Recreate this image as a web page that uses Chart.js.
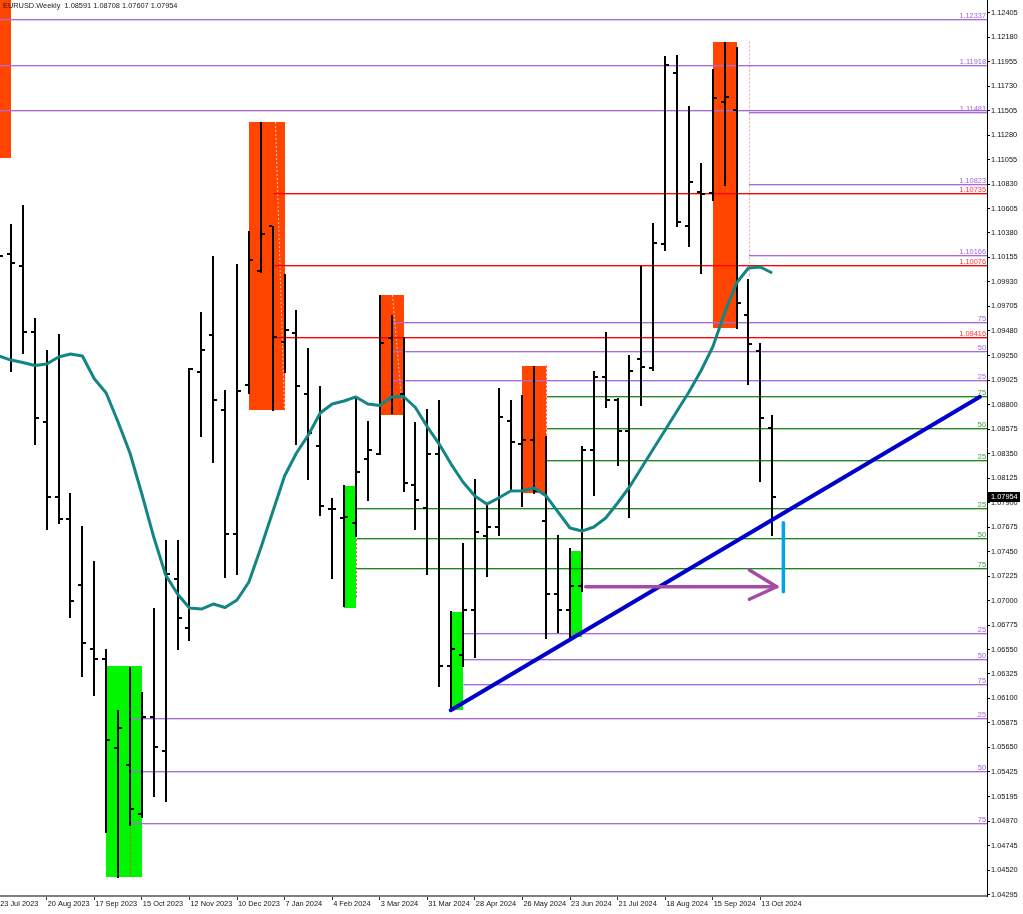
<!DOCTYPE html>
<html>
<head>
<meta charset="utf-8">
<script src="https://cdn.jsdelivr.net/npm/chart.js@4.4.1/dist/chart.umd.min.js"></script>
<style>
  html, body { margin: 0; padding: 0; background: #fff; }
  #grafico { display: block; }
</style>
</head>
<body>
<canvas id="grafico" width="1023" height="914" style="width:1023px;height:914px"></canvas>
<script>
// EURUSD semanal - barras OHLC (indice 0 = semana de 23 Jul 2023)
const barOpen = [1.1125, 1.1019, 1.1008, 1.0947, 1.0864, 1.0795, 1.0775, 1.0714, 1.0655, 1.0646,
  1.0564, 1.0549, 1.0504, 1.0593, 1.0562, 1.0720, 1.0675, 1.0910, 1.0944, 1.0875,
  1.0761, 1.0898, 1.1003, 1.1044, 1.0938, 1.0946, 1.0890, 1.0842, 1.0784, 1.0776,
  1.0771, 1.0830, 1.0835, 1.0941, 1.0890, 1.0806, 1.0785, 1.0835, 1.0640, 1.0650,
  1.0691, 1.0759, 1.0768, 1.0865, 1.0844, 1.0848, 1.0773, 1.0706, 1.0691, 1.0713,
  1.0838, 1.0906, 1.0884, 1.0856, 1.0922, 1.0914, 1.1028, 1.1185, 1.1044, 1.1076,
  1.1075, 1.1158, 1.1151, 1.0963, 1.0929, 1.08591];
const barHigh = [1.1149, 1.1046, 1.1064, 1.0960, 1.0930, 1.0945, 1.0799, 1.0769, 1.0736, 1.0655,
  1.0599, 1.0639, 1.0616, 1.0693, 1.0756, 1.0756, 1.0914, 1.0965, 1.1017, 1.0894,
  1.1009, 1.1040, 1.1140, 1.1044, 1.1000, 1.0967, 1.0932, 1.0897, 1.0794, 1.0806,
  1.0888, 1.0865, 1.0981, 1.0963, 1.0942, 1.0864, 1.0876, 1.0884, 1.0690, 1.0753,
  1.0812, 1.0789, 1.0895, 1.0884, 1.0889, 1.0916, 1.0851, 1.0760, 1.0748, 1.0842,
  1.0911, 1.0947, 1.0886, 1.0926, 1.1008, 1.1047, 1.1201, 1.1202, 1.1155, 1.1102,
  1.1189, 1.1214, 1.1209, 1.0996, 1.0937, 1.08708];
const barLow = [1.0944, 1.0911, 1.0928, 1.0844, 1.0766, 1.0771, 1.0685, 1.0631, 1.0613, 1.0487,
  1.0446, 1.0494, 1.0501, 1.0520, 1.0516, 1.0655, 1.0664, 1.0851, 1.0827, 1.0722,
  1.0724, 1.0891, 1.1002, 1.0875, 1.0910, 1.0844, 1.0812, 1.0779, 1.0721, 1.0695,
  1.0759, 1.0792, 1.0835, 1.0872, 1.0801, 1.0766, 1.0724, 1.0621, 1.0600, 1.0640,
  1.0648, 1.0723, 1.0760, 1.0803, 1.0787, 1.0799, 1.0666, 1.0671, 1.0666, 1.0709,
  1.0797, 1.0878, 1.0825, 1.0777, 1.0880, 1.0912, 1.1022, 1.1044, 1.1026, 1.1001,
  1.1068, 1.1082, 1.0951, 1.0899, 1.0810, 1.07607];
const barClose = [1.1017, 1.1010, 1.0947, 1.0868, 1.0795, 1.0775, 1.0700, 1.0661, 1.0646, 1.0572,
  1.0583, 1.0508, 1.0593, 1.0565, 1.0724, 1.0684, 1.0913, 1.0930, 1.0884, 1.0761,
  1.0893, 1.1013, 1.1037, 1.0942, 1.0949, 1.0897, 1.0854, 1.0787, 1.0784, 1.0777,
  1.0818, 1.0838, 1.0937, 1.0887, 1.0808, 1.0792, 1.0835, 1.0640, 1.0655, 1.0691,
  1.0763, 1.0768, 1.0869, 1.0846, 1.0848, 1.0801, 1.0706, 1.0691, 1.0713, 1.0838,
  1.0906, 1.0884, 1.0856, 1.0911, 1.0915, 1.1029, 1.1192, 1.1048, 1.1085, 1.1074,
  1.1162, 1.1163, 1.0974, 1.0936, 1.0868, 1.07954];

// media movel (linha verde-azulada)
const mediaMovel = [1.09248, 1.09211, 1.09189, 1.09161, 1.09175, 1.09239, 1.09267, 1.09248, 1.09039, 1.08908,
  1.08642, 1.08357, 1.07980, 1.07584, 1.07235, 1.07060, 1.06931, 1.06922, 1.06968, 1.06936,
  1.07005, 1.07171, 1.07483, 1.07814, 1.08145, 1.08357, 1.08522, 1.08725, 1.08807, 1.08835,
  1.08872, 1.08807, 1.08793, 1.08872, 1.08876, 1.08775, 1.08598, 1.08439, 1.08255, 1.08090,
  1.07961, 1.07887, 1.07943, 1.08007, 1.08010, 1.08035, 1.07961, 1.07814, 1.07667, 1.07639,
  1.07676, 1.07759, 1.07897, 1.08044, 1.08219, 1.08393, 1.08568, 1.08743, 1.08917, 1.09111,
  1.09331, 1.09644, 1.09920, 1.10058, 1.10067, 1.10012];

// rotulos dos eixos
const rotulosData = ['23 Jul 2023', '20 Aug 2023', '17 Sep 2023', '15 Oct 2023', '12 Nov 2023', '10 Dec 2023',
  '7 Jan 2024', '4 Feb 2024', '3 Mar 2024', '31 Mar 2024', '28 Apr 2024', '26 May 2024', '23 Jun 2024',
  '21 Jul 2024', '18 Aug 2024', '15 Sep 2024', '13 Oct 2024'];
const rotulosPreco = ['1.12405', '1.12180', '1.11955', '1.11730', '1.11505', '1.11280', '1.11055', '1.10830',
  '1.10605', '1.10380', '1.10155', '1.09930', '1.09705', '1.09480', '1.09250', '1.09025', '1.08800', '1.08575',
  '1.08350', '1.08125', '1.07900', '1.07675', '1.07450', '1.07225', '1.07000', '1.06775', '1.06550', '1.06325',
  '1.06100', '1.05875', '1.05650', '1.05425', '1.05195', '1.04970', '1.04745', '1.04520', '1.04295'];

// zonas de oferta / demanda
const zonaInicio = [-3, 21, 32, 44, 60, 9, 29, 38, 48];
const zonaFim = [1, 24, 34, 46, 62, 12, 30, 39, 49];
const zonaTopo = [1.1290, 1.1140, 1.0981, 1.0916, 1.12138, 1.06398, 1.08053, 1.06897, 1.07456];
const zonaBase = [1.1107, 1.0875, 1.0871, 1.07986, 1.09503, 1.04458, 1.06934, 1.05994, 1.06662];
const zonaTipo = ['oferta', 'oferta', 'oferta', 'oferta', 'oferta', 'demanda', 'demanda', 'demanda', 'demanda'];

// linhas pontilhadas das zonas
const pontoIdx1 = [23.2, 33.03, 46.0, 63.05, 11.0, 30.0];
const pontoPreco1 = [1.1140, 1.0981, 1.0916, 1.1214, 1.0495, 1.0760];
const pontoIdx2 = [23.95, 33.79, 46.0, 63.05, 11.0, 30.0];
const pontoPreco2 = [1.0875, 1.0885, 1.0850, 1.0998, 1.0446, 1.0702];
const pontoTipo = ['claro', 'claro', 'vermelho', 'rosa', 'vermelho', 'vermelho'];

// niveis horizontais
const nivelPreco = [1.12337, 1.11918, 1.11500, 1.11481, 1.10823, 1.10166, 1.10735, 1.10076, 1.09416,
  1.09555, 1.09288, 1.09022, 1.08875, 1.08580, 1.08283, 1.07839, 1.07566, 1.07293,
  1.06690, 1.06453, 1.06221, 1.05908, 1.05423, 1.04943];
const nivelInicio = [-3, -3, -3, 63.05, 63.05, 63.05, 23.1, 23.1, 23.1,
  33.1, 33.1, 33.1, 46.04, 46.04, 46.04, 30.06, 30.06, 30.06,
  39.03, 39.03, 39.03, 11.0, 11.0, 11.0];
const nivelRotulo = ['1.12337', '1.11918', '', '1.11481', '1.10823', '1.10166', '1.10735', '1.10076', '1.09416',
  '75', '50', '25', '75', '50', '25', '25', '50', '75',
  '25', '50', '75', '25', '50', '75'];
const nivelTipo = ['roxo', 'roxo', 'roxo', 'roxo', 'roxo', 'roxo', 'vermelho', 'vermelho', 'vermelho',
  'roxo', 'roxo', 'roxo', 'verde', 'verde', 'verde', 'verde', 'verde', 'verde',
  'roxo', 'roxo', 'roxo', 'roxo', 'roxo', 'roxo'];

// desenhos: linha de tendencia, seta e alvo
const tendenciaIdx = [37.97, 82.47];
const tendenciaPreco = [1.05992, 1.08874];
const setaIdx = [49.32, 65.38];
const setaPreco = [1.07127, 1.07127];
const pontaIdx = [63.08, 65.38, 63.08];
const pontaPreco = [1.07281, 1.07127, 1.07012];
const alvoIdx = [65.94, 65.94];
const alvoPreco = [1.07716, 1.07081];

const titulo = 'EURUSD.Weekly  1.08591 1.08708 1.07607 1.07954';
const precoAtual = 1.07954;

const fonte = "'Liberation Sans', Arial, sans-serif";

const coresNivel = { roxo: '#a86add', vermelho: '#ff0000', verde: '#1f851f' };
const coresTexto = { roxo: '#9b63d8', vermelho: '#ff3333', verde: '#3a9a3a' };
const coresPonto = { claro: '#ffc8b8', vermelho: '#ff3b3b', rosa: '#ff9a9a' };

function pontos(idx, precos) {
  return idx.map((v, k) => ({ x: v, y: precos[k] }));
}

const mt4Plugin = {
  id: 'mt4',
  beforeDatasetsDraw(chart) {
    const { ctx, chartArea: area, scales: { x, y } } = chart;
    ctx.save();
    ctx.beginPath();
    ctx.rect(area.left, area.top, area.right - area.left, area.bottom - area.top);
    ctx.clip();

    // zonas
    for (let k = 0; k < zonaInicio.length; k++) {
      const x1 = x.getPixelForValue(zonaInicio[k]);
      const x2 = x.getPixelForValue(zonaFim[k]);
      const y1 = y.getPixelForValue(zonaTopo[k]);
      const y2 = y.getPixelForValue(zonaBase[k]);
      ctx.fillStyle = zonaTipo[k] == 'oferta' ? '#ff4500' : '#00f500';
      ctx.fillRect(Math.round(x1), Math.round(y1), Math.round(x2) - Math.round(x1), Math.round(y2) - Math.round(y1));
    }

    // pontilhadas
    ctx.setLineDash([2, 2]);
    ctx.lineWidth = 1;
    for (let k = 0; k < pontoIdx1.length; k++) {
      ctx.strokeStyle = coresPonto[pontoTipo[k]];
      ctx.beginPath();
      ctx.moveTo(Math.round(x.getPixelForValue(pontoIdx1[k])) + 0.5, y.getPixelForValue(pontoPreco1[k]));
      ctx.lineTo(Math.round(x.getPixelForValue(pontoIdx2[k])) + 0.5, y.getPixelForValue(pontoPreco2[k]));
      ctx.stroke();
    }
    ctx.setLineDash([]);

    // niveis: linha de 1px com borda suave
    for (let k = 0; k < nivelPreco.length; k++) {
      const yy = Math.round(y.getPixelForValue(nivelPreco[k]));
      const x1 = x.getPixelForValue(nivelInicio[k]);
      ctx.fillStyle = coresNivel[nivelTipo[k]];
      ctx.globalAlpha = 1;
      ctx.fillRect(x1, yy - 1, area.right - x1, 1);
      ctx.globalAlpha = 0.35;
      ctx.fillRect(x1, yy, area.right - x1, 1);
    }
    ctx.globalAlpha = 1;

    // barras OHLC
    ctx.fillStyle = '#000';
    for (let i = 0; i < barOpen.length; i++) {
      const px = Math.round(x.getPixelForValue(i));
      const yH = Math.round(y.getPixelForValue(barHigh[i]));
      const yL = Math.round(y.getPixelForValue(barLow[i]));
      const yO = Math.round(y.getPixelForValue(barOpen[i]));
      const yC = Math.round(y.getPixelForValue(barClose[i]));
      ctx.fillRect(px - 1, yH, 2, yL - yH + 1);
      ctx.fillRect(px - 4, yO - 1, 3, 2);
      ctx.fillRect(px + 1, yC - 1, 3, 2);
    }
    ctx.restore();
  },
  afterDraw(chart) {
    const { ctx, chartArea: area, scales: { y } } = chart;
    ctx.save();
    ctx.font = '7.4px ' + fonte;
    ctx.textBaseline = 'alphabetic';

    // rotulos dos niveis
    ctx.textAlign = 'right';
    for (let k = 0; k < nivelPreco.length; k++) {
      if (!nivelRotulo[k]) continue;
      const yy = Math.round(y.getPixelForValue(nivelPreco[k]));
      ctx.fillStyle = coresTexto[nivelTipo[k]];
      ctx.fillText(nivelRotulo[k], area.right - 1, yy - 2);
    }

    // preco atual
    const yp = Math.round(y.getPixelForValue(precoAtual));
    ctx.fillStyle = '#000';
    ctx.fillRect(area.right + 1, yp - 5, 32, 10);
    ctx.fillStyle = '#fff';
    ctx.textAlign = 'left';
    ctx.textBaseline = 'middle';
    ctx.fillText(precoAtual.toFixed(5), area.right + 4, yp);

    // titulo
    ctx.fillStyle = '#1a1a1a';
    ctx.fillText(titulo, 3, 6);
    ctx.restore();
  }
};

const config = {
  type: 'line',
  data: {
    datasets: [
      {
        label: 'media',
        data: pontos(mediaMovel.map((v, i) => i), mediaMovel),
        borderColor: '#128585',
        borderWidth: 3,
        pointRadius: 0,
        borderJoinStyle: 'round',
        order: 4
      },
      {
        label: 'tendencia',
        data: pontos(tendenciaIdx, tendenciaPreco),
        borderColor: '#0000cd',
        borderWidth: 4,
        pointRadius: 0,
        borderCapStyle: 'round',
        order: 3
      },
      {
        label: 'seta',
        data: pontos(setaIdx, setaPreco),
        borderColor: '#a64aa8',
        borderWidth: 3.5,
        pointRadius: 0,
        borderCapStyle: 'round',
        order: 2
      },
      {
        label: 'ponta',
        data: pontos(pontaIdx, pontaPreco),
        borderColor: '#a64aa8',
        borderWidth: 3.5,
        pointRadius: 0,
        borderCapStyle: 'round',
        borderJoinStyle: 'round',
        order: 2
      },
      {
        label: 'alvo',
        data: pontos(alvoIdx, alvoPreco),
        borderColor: '#00a2e8',
        borderWidth: 3.5,
        pointRadius: 0,
        borderCapStyle: 'round',
        order: 1
      }
    ]
  },
  options: {
    responsive: false,
    animation: false,
    layout: { padding: 0 },
    plugins: { legend: { display: false }, tooltip: { enabled: false } },
    scales: {
      x: {
        type: 'linear',
        position: 'bottom',
        min: 0.073,
        max: 83.06,
        afterBuildTicks: (eixo) => { eixo.ticks = rotulosData.map((r, k) => ({ value: k * 4 })); },
        afterFit: (eixo) => { eixo.height = 18; eixo.paddingLeft = 0; eixo.paddingRight = 0; },
        ticks: {
          autoSkip: false,
          maxRotation: 0,
          minRotation: 0,
          align: 'start',
          labelOffset: 1,
          padding: 0,
          color: '#111',
          font: { family: fonte, size: 7.4 },
          callback: (v, idx) => rotulosData[idx]
        },
        grid: { drawOnChartArea: false, tickLength: 4, color: '#333', lineWidth: 1 },
        border: { color: '#808080', width: 2 }
      },
      y: {
        type: 'linear',
        position: 'right',
        min: 1.042835,
        max: 1.125218,
        afterBuildTicks: (eixo) => { eixo.ticks = rotulosPreco.map((r) => ({ value: parseFloat(r) })); },
        afterFit: (eixo) => { eixo.width = 36; eixo.paddingTop = 0; eixo.paddingBottom = 0; },
        ticks: {
          autoSkip: false,
          padding: 1,
          color: '#111',
          font: { family: fonte, size: 7.4 },
          callback: (v, idx) => rotulosPreco[idx]
        },
        grid: { drawOnChartArea: false, tickLength: 3, color: '#000', lineWidth: 1 },
        border: { color: '#000', width: 1 }
      }
    }
  },
  plugins: [mt4Plugin]
};

var graficoEurusd = new Chart(document.getElementById('grafico'), config);
</script>
</body>
</html>
